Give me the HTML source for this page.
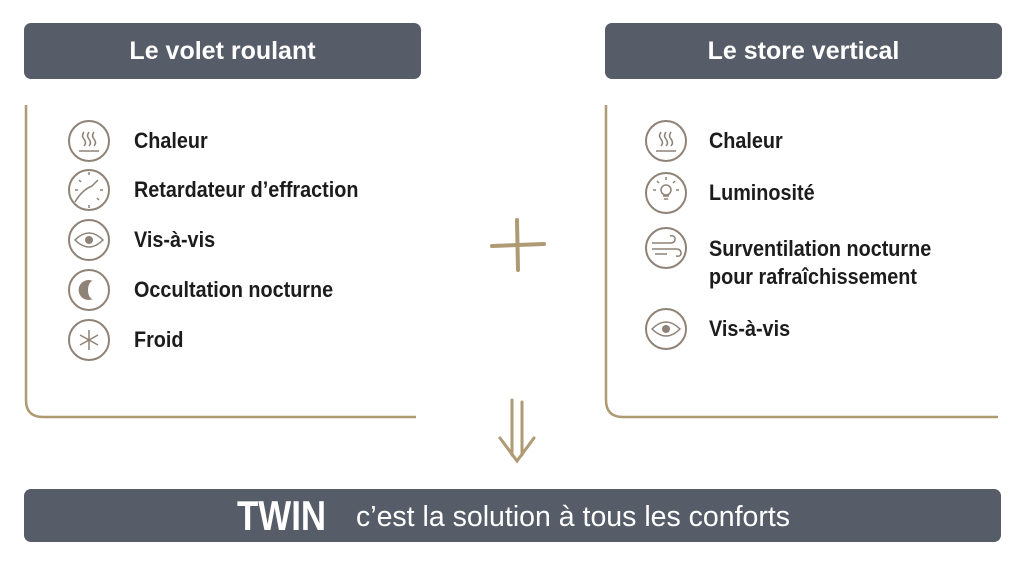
<!DOCTYPE html>
<html><head><meta charset="utf-8"><style>
html,body{margin:0;padding:0;background:#fff;}
body{width:1024px;height:574px;position:relative;overflow:hidden;font-family:"Liberation Sans",sans-serif;}
.hdr{position:absolute;background:#565d68;border-radius:7px;color:#fff;font-weight:bold;font-size:25px;text-align:center;}
.t{position:absolute;font-weight:bold;font-size:22px;color:#1c1c1c;line-height:28px;transform:scaleX(0.9);transform-origin:0 0;white-space:nowrap;}
</style></head><body>
<div class="hdr" style="left:24px;top:23px;width:397px;height:56px;line-height:56px;">Le volet roulant</div>
<div class="hdr" style="left:605px;top:23px;width:397px;height:56px;line-height:56px;">Le store vertical</div>
<div class="hdr" style="left:24px;top:489px;width:977px;height:53px;"></div>
<div style="position:absolute;left:237px;top:494px;color:#fff;font-weight:bold;font-size:42px;line-height:44px;transform:scaleX(0.83);transform-origin:0 0;white-space:nowrap;">TWIN</div>
<div style="position:absolute;left:356px;top:501px;color:#fff;font-size:28.5px;line-height:32px;white-space:nowrap;">c’est la solution à tous les conforts</div>

<svg width="1024" height="574" style="position:absolute;left:0;top:0" xmlns="http://www.w3.org/2000/svg">
<g fill="none" stroke="#ae9a73" stroke-width="2.5">
<path d="M26 105 V400 Q26 417 43 417 H416"/>
<path d="M606 105 V400 Q606 417 623 417 H998"/>
</g>
<g stroke="#ae9a73" stroke-width="4" stroke-linecap="round" fill="none">
<path d="M517 220 L518 270"/><path d="M492 246 L544 244"/>
</g>
<g stroke="#ae9a73" stroke-width="3" stroke-linecap="round" fill="none">
<path d="M512 400 V455"/><path d="M522 402 V455"/><path d="M500 438 L517 461 L534 438"/>
</g>
<g fill="none" stroke="#8f8276" stroke-width="2">
<circle cx="89" cy="141" r="20"/><circle cx="89" cy="190" r="20"/><circle cx="89" cy="240" r="20"/><circle cx="89" cy="290" r="20"/><circle cx="89" cy="340" r="20"/>
<circle cx="666" cy="141" r="20"/><circle cx="666" cy="193" r="20"/><circle cx="666" cy="248" r="20"/><circle cx="666" cy="329" r="20"/>
</g>
<g fill="none" stroke="#8f8276" stroke-width="1.5">
<path d="M84 132 q-3 4 0 7 q3 4 0 7 M89 132 q-3 4 0 7 q3 4 0 7 M94 132 q-3 4 0 7 q3 4 0 7 M79 151 H99"/>
<path d="M661 132 q-3 4 0 7 q3 4 0 7 M666 132 q-3 4 0 7 q3 4 0 7 M671 132 q-3 4 0 7 q3 4 0 7 M656 151 H676"/>
<path d="M75 202 Q82 190 92 186 L98 180 M89 172 v3 M103 190 h-3 M89 208 v-3 M75 190 h3 M79 180 l2 2 M99 200 l-2 -2"/>
<path d="M75 240 Q89 226 103 240 Q89 254 75 240Z"/><path d="M652 329 Q666 315 680 329 Q666 343 652 329Z"/>
<path d="M89 330 V350 M80 335 L98 345 M80 345 L98 335"/>
<circle cx="666" cy="190" r="5"/><path d="M663 196 h6 M664 199 h4 M666 180 v-3 M656 190 h-3 M676 190 h3 M659 183 l-2 -2 M673 183 l2 -2"/>
<path d="M652 243 H670 q5 0 5 -4 q0 -4 -5 -3 M652 249 H676 q5 0 5 4 q0 4 -5 3 M655 254 H667"/>
</g>
<g fill="#8f8276"><circle cx="89" cy="240" r="4"/><circle cx="666" cy="329" r="4"/>
<path d="M93 281 A10 10 0 1 0 93 299 A5 9 0 0 1 93 281Z"/></g>
</svg>

<div class="t" style="left:134px;top:127px;">Chaleur</div>
<div class="t" style="left:134px;top:176px;">Retardateur d’effraction</div>
<div class="t" style="left:134px;top:226px;">Vis-à-vis</div>
<div class="t" style="left:134px;top:276px;">Occultation nocturne</div>
<div class="t" style="left:134px;top:326px;">Froid</div>
<div class="t" style="left:709px;top:127px;">Chaleur</div>
<div class="t" style="left:709px;top:179px;">Luminosité</div>
<div class="t" style="left:709px;top:235px;">Surventilation nocturne<br>pour rafraîchissement</div>
<div class="t" style="left:709px;top:315px;">Vis-à-vis</div>
</body></html>
